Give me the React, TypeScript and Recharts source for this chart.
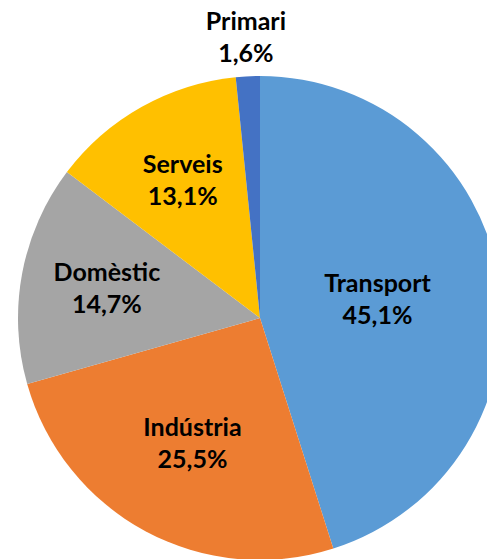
import React from "react";
import { PieChart, Pie, Cell } from "recharts";

const sectors = ["Transport", "Indústria", "Domèstic", "Serveis", "Primari"];
const shares = [45.1, 25.5, 14.7, 13.1, 1.6];
const COLORS = ["#5B9BD5", "#ED7D31", "#A5A5A5", "#FFC000", "#4472C4"];

const data = sectors.map((name, i) => ({ name, value: shares[i] }));
const total = shares.reduce((a, b) => a + b, 0);

const RAD = Math.PI / 180;

const renderLabel = (props: any) => {
    const { cx, cy, midAngle, outerRadius, name, value } = props;
    const frac = value / total;
    // small slices go outside, the rest sit inside
    const r = frac < 0.05 ? outerRadius + 38 : outerRadius * (0.717 - 0.5 * frac);
    const x = cx + r * Math.cos(-midAngle * RAD);
    const y = cy + r * Math.sin(-midAngle * RAD);
    const pct = value.toFixed(1).replace(".", ",") + "%";
    return (
        <text
            x={x}
            y={y}
            textAnchor="middle"
            fill="#000"
            fontFamily="Lato, 'Open Sans', sans-serif"
            fontWeight="bold"
            fontSize={25}
        >
            <tspan x={x} dy={-8}>{name}</tspan>
            <tspan x={x} dy={32}>{pct}</tspan>
        </text>
    );
};

const App: React.FC = () => {
    return (
        <div style={{ position: "absolute", top: 0, left: 0, width: 487, height: 559, overflow: "hidden", background: "#fff" }}>
            <PieChart width={487} height={559} margin={{ top: 0, right: 0, bottom: 0, left: 0 }}>
                <Pie
                    data={data}
                    dataKey="value"
                    nameKey="name"
                    cx={260}
                    cy={318}
                    outerRadius={242}
                    startAngle={90}
                    endAngle={-270}
                    stroke="none"
                    label={renderLabel}
                    labelLine={false}
                    isAnimationActive={false}
                >
                    {data.map((entry, index) => (
                        <Cell key={entry.name} fill={COLORS[index % COLORS.length]} />
                    ))}
                </Pie>
            </PieChart>
        </div>
    );
};

export default App;
